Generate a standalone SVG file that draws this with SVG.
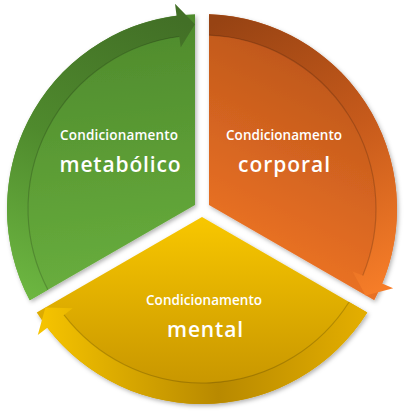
<svg xmlns="http://www.w3.org/2000/svg" width="405" height="412" viewBox="0 0 405 412">
  <defs>
    <filter id="sh" x="-10%" y="-10%" width="120%" height="120%">
      <feDropShadow dx="1.5" dy="2" stdDeviation="2" flood-color="#000" flood-opacity="0.3"/>
    </filter>
    <linearGradient id="gW" gradientUnits="userSpaceOnUse" x1="120" y1="20" x2="150" y2="280">
      <stop offset="0" stop-color="#4e8a2c"/>
      <stop offset="1" stop-color="#68ad3d"/>
    </linearGradient>
    <linearGradient id="gB" gradientUnits="userSpaceOnUse" x1="160" y1="10" x2="30" y2="300">
      <stop offset="0" stop-color="#426f26"/>
      <stop offset="0.5" stop-color="#4f8a2d"/>
      <stop offset="1" stop-color="#6db741"/>
    </linearGradient>
    <linearGradient id="oW" gradientUnits="userSpaceOnUse" x1="330" y1="40" x2="220" y2="260">
      <stop offset="0" stop-color="#b9541a"/>
      <stop offset="1" stop-color="#f07526"/>
    </linearGradient>
    <linearGradient id="oB" gradientUnits="userSpaceOnUse" x1="230" y1="15" x2="380" y2="290">
      <stop offset="0" stop-color="#974313"/>
      <stop offset="0.5" stop-color="#c65a1b"/>
      <stop offset="1" stop-color="#f67d28"/>
    </linearGradient>
    <linearGradient id="yW" gradientUnits="userSpaceOnUse" x1="0" y1="220" x2="0" y2="400">
      <stop offset="0" stop-color="#f7c600"/>
      <stop offset="1" stop-color="#c49200"/>
    </linearGradient>
    <linearGradient id="yB" gradientUnits="userSpaceOnUse" x1="360" y1="310" x2="40" y2="320">
      <stop offset="0" stop-color="#e2ad00"/>
      <stop offset="0.45" stop-color="#b88900"/>
      <stop offset="1" stop-color="#f6c400"/>
    </linearGradient>
    <style>
      .seg { filter: url(#sh); }
      .small { font-family: "Open Sans", "Noto Sans", "DejaVu Sans", sans-serif; font-size: 13.5px; font-weight: 600; fill: #ffffff; text-anchor: middle; }
      .big { font-family: "Open Sans", "Noto Sans", "DejaVu Sans", sans-serif; font-size: 21px; font-weight: 600; fill: #ffffff; text-anchor: middle; }
      .edge { fill: none; stroke: #000; stroke-opacity: 0.18; stroke-width: 1.2; }
    </style>
  </defs>

  <g id="node-metabolico">
    <path class="seg" fill="url(#gW)" d="M195,205 L195,14.13 A195,195 0 0 0 29.74,300.37 Z"/>
    <text class="small" x="119" y="140" textLength="118" lengthAdjust="spacing">Condicionamento</text>
    <text class="big" x="120" y="172" textLength="121" lengthAdjust="spacing">metabólico</text>
  </g>

  <g id="node-corporal">
    <path class="seg" fill="url(#oW)" d="M209,205 L209,14.13 A195,195 0 0 1 374.26,300.37 Z"/>
    <text class="small" x="284" y="140" textLength="116" lengthAdjust="spacing">Condicionamento</text>
    <text class="big" x="284" y="172" textLength="92" lengthAdjust="spacing">corporal</text>
  </g>

  <g id="node-mental">
    <path class="seg" fill="url(#yW)" d="M202,217.08 L367.26,312.5 A195,195 0 0 1 36.74,312.5 Z"/>
    <text class="small" x="204" y="305" textLength="116" lengthAdjust="spacing">Condicionamento</text>
    <text class="big" x="205" y="337" textLength="76" lengthAdjust="spacing">mental</text>
  </g>

  <g id="connectors">
    <path fill="url(#gB)" d="M29.74,300.37 A195,195 0 0 1 176.55,15.67 L175,3.8 L195,24.13 L180.7,47.4 L179.29,36.5 A174,174 0 0 0 47.94,289.87 Z"/>
    <path class="edge" d="M179.29,36.5 A174,174 0 0 0 47.94,289.87"/>
    <path fill="url(#oB)" d="M209,14.13 A195,195 0 0 1 382.16,283.62 L393.2,288.2 L365.6,295.4 L352.6,271.4 L362.76,275.59 A174,174 0 0 0 209,35.14 Z"/>
    <path class="edge" d="M362.76,275.59 A174,174 0 0 0 209,35.14"/>
    <path fill="url(#yB)" d="M367.26,312.5 A195,195 0 0 1 47.3,327.7 L37.8,335 L45.4,307.5 L72.7,308.2 L63.95,314.93 A174,174 0 0 0 349.06,301.99 Z"/>
    <path class="edge" d="M63.95,314.93 A174,174 0 0 0 349.06,301.99"/>
  </g>
</svg>
